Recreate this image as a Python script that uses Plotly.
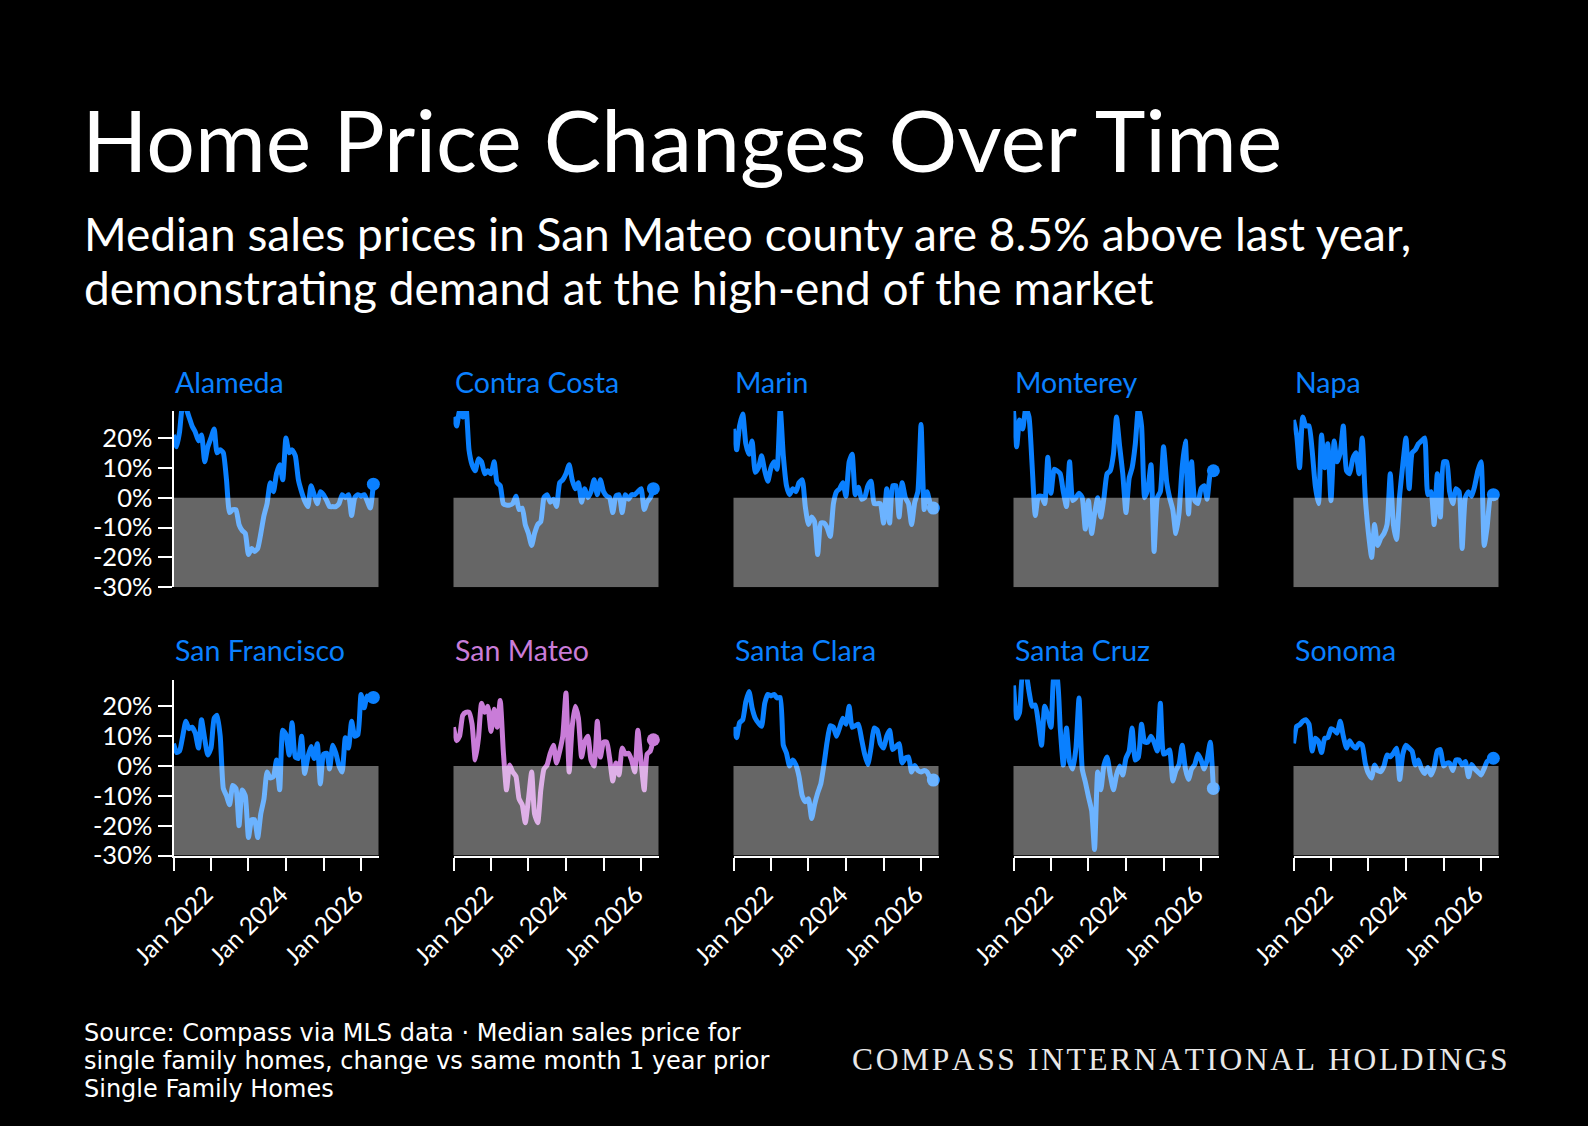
import plotly.graph_objects as go
import pandas as pd

W, H = 1588, 1126

# ---------------- data ----------------
dates = pd.date_range("2021-01-01", periods=65, freq="MS")

counties = ["Alameda", "Contra Costa", "Marin", "Monterey", "Napa",
            "San Francisco", "San Mateo", "Santa Clara", "Santa Cruz", "Sonoma"]

alameda = [21, 17, 22, 31, 30, 27, 24, 22, 19, 21, 12, 17, 20, 23, 15, 16, 15, 6, -5, -4,
           -4, -9, -11, -12, -19, -17, -18, -17, -12, -6, -2, 5, 2, 8, 11, 6, 20, 15, 16, 14,
           6, 2, -1, -3, 4, 1, -2, 2, 1, -1, -3, -3, -3, -2, 1, 0, 1, -6, 0, 1,
           0.5, 1, -1, -3.5, 4.5]
contra_costa = [27, 24, 29, 27, 31, 16, 11, 9, 13, 12, 8, 9, 8, 12, 5, 4, -2, -2.5, -2.5, -2,
                0.5, -4, -3.5, -9, -12, -16, -12, -9, -8, 0, 1, -1.5, -0.5, -3, 5, 6, 8, 11, 6, 3,
                5, -1.5, 3, 0, 2, 6, 1, 6, 2, 0.5, 0, -5, 0.5, 1, -5, 1, -0.5, 1, 1, 2,
                3, -4, -1.5, 0, 3]
marin = [23, 16, 24, 28, 18, 14.5, 19, 8.5, 10, 14, 9, 5.5, 10, 12, 9.5, 30, 14, 4, 1, 3,
         2, 5, 6, -3, -9, -6.5, -8, -19, -8.5, -8.5, -10, -13, -2, 2, 3, 5, 0.5, 12, 14.5, 1,
         3.5, -0.5, 0, 4, 5.5, -2, -2, -2, -8.5, 3, -8.5, 4, 4, -6.5, 5, 0, -2, -9, -1.5, 2,
         24.5, -4, 2, -2, -3.5]
monterey = [29, 17, 26, 23, 30, 27, 11, -6, 0.5, 0.5, -2, 13.5, 1.5, 9.5, 9, 8, 2, -3, 12, -1,
            0, 1.5, 0, -10.5, -1, -12, -5.5, 0, -6.5, 0, 8, 9, 14.5, 27, 17, 8, -5, 6.5, 10, 18,
            30, 24, 0, 3, 11, -18, 0, 2, 17, 5, 0, -4, -12, -5, 10, 19, -5.5, 12, -1, -2,
            3, 4, -0.5, 8, 9]
napa = [26, 21, 10, 27, 24, 24, 16, 4, -2, 21, 10, 18, -1, 19, 12, 15, 24, 9, 8, 13,
        15, 8, 20, 0, -12, -20, -9, -16, -13.5, -12, -9, 8, -9, -14, 1, 11, 20, 3, 15, 16,
        18, 19, 20, 1, 2, -9, 8, -6.5, 12, 12, 2, -2, 3, 2, -17, 0, 2, 0.5, 4, 9,
        12, -16, -10, 0, 1]
san_francisco = [7.5, 4.5, 5, 10, 15, 12.5, 13, 11, 6, 15.5, 9, 3.7, 6, 16, 17, 10, -7.5, -10, -13, -6.5,
                 -7.5, -20, -8, -10, -24, -18, -18, -24, -16, -11, -2, -4, -3.5, 2, -8, 12, 10.5, 3.7, 14.5, 3,
                 2.5, 10, -2.5, 3, 6.5, 2.5, 7.5, -6, 4, 4.3, -1, 7, 4.3, 0, -2, 9.5, 6, 15, 10, 10.5,
                 24, 19.5, 23.5, 22, 23]
san_mateo = [13, 8.5, 10, 17, 18, 18, 14, 2, 9.3, 21, 18, 20, 11.6, 19, 13, 22, 5, -8, 0.3, -2,
             -3.5, -11, -13, -19, -11, -2, -16, -19, -8, -1, 0.3, 4.3, 7, 1, 5, 10, 24.5, -2, 13, 20,
             16, 3, 8, 10, 2, 0, 15, 3, 8, 8, 2.6, -5, 1, -3, 6, 4, 4.3, 2, -2, 12,
             1.5, -8, 4, 5, 8.8]
santa_clara = [13, 9.5, 14.5, 15.5, 21.5, 25, 19.5, 16, 14.4, 13.3, 21, 24, 23.5, 24, 22.8, 23, 7, 4.3, 0, 2,
               0.3, -3.5, -10, -12, -11, -17.6, -13, -9, -6, 0.5, 8, 13.5, 13, 10, 13, 16, 14, 20, 13, 13.5,
               14, 9, 4, 0.5, 6, 12.7, 12, 7.5, 6, 10, 12, 5.5, 6.5, 7.5, 1, 2.6, 3, -2, 0.2, -1.5,
               -2, -1.5, -2, -4, -4.7]
santa_cruz = [27, 16, 18, 31, 31, 25, 20, 20.5, 14.4, 7, 20, 17, 13, 31, 30, 12.7, 0.3, 12.7, 1.5, -1,
              6, 22.8, -1, -5.3, -10.3, -15, -28, -2, -8, 0.3, 3, -3, -8, -3, 0, -3, 2.6, 5, 12.7, 2,
              3, 14, 8, 8, 10, 8, 5, 21, 4, 4.5, 5.4, -5, -1.5, 0.5, 7, -0.8, -4.5, -1, 0.5, 4,
              2, -1, 2, 8, -7.5]
sonoma = [7.6, 13.3, 13.8, 15, 15.5, 14, 5, 9.3, 8.2, 4.5, 9.3, 9.5, 12.5, 12, 11, 15, 10, 6, 8.5, 6.8,
          6, 7.6, 7, 0.9, -2.5, -4, 0.3, -1.5, -1.9, 0, 3.7, 3.1, 4.3, 6, -4.5, 4, 7, 6, 5, 0.3,
          2, -1, -2.5, -0.5, -3, -0.5, 5, 5.5, 0, 0.9, 1, -1.5, 2, 2, 0.3, 1.5, -3.6, 0.5, -1, -2,
          -3, -0.8, 1.5, 2, 2.6]

series = [alameda, contra_costa, marin, monterey, napa,
          san_francisco, san_mateo, santa_clara, santa_cruz, sonoma]
highlight = "San Mateo"

y_tickvals = [-30, -20, -10, 0, 10, 20]
y_ticktext = ["-30%", "-20%", "-10%", "0%", "10%", "20%"]
x_tickvals = ["2021-01-01", "2022-01-01", "2023-01-01", "2024-01-01", "2025-01-01", "2026-01-01"]
x_ticktext = ["", "Jan 2022", "", "Jan 2024", "", "Jan 2026"]

title = "Home Price Changes Over Time"
subtitle_lines = ["Median sales prices in San Mateo county are 8.5% above last year,",
                  "demonstrating demand at the high-end of the market"]
footer_lines = ["Source: Compass via MLS data \u00b7 Median sales price for",
                "single family homes, change vs same month 1 year prior",
                "Single Family Homes"]
brand = "COMPASS INTERNATIONAL HOLDINGS"

# ---------------- style ----------------
FONT = "Lato"
FOOT_FONT = "DejaVu Sans"
BLUE = "#0A80FF"
PURPLE = "#C97CD8"
WHITE = "#FFFFFF"

col_left = [173.5 + 280 * i for i in range(5)]
pw = 205
row_top = [411.0, 679.5]
row_bot = [587.3, 855.5]
title_y = [382, 650]


def px_x(v):
    return v / W


def px_y(v):
    return 1 - v / H


fig = go.Figure()
layout_axes = {}
annotations = []
shapes = []

for idx, (name, vals) in enumerate(zip(counties, series)):
    r, c = divmod(idx, 5)
    k = idx + 1
    xa = "x" if k == 1 else f"x{k}"
    ya = "y" if k == 1 else f"y{k}"
    color = PURPLE if name == highlight else BLUE

    fig.add_trace(go.Scatter(x=dates, y=vals, mode="lines",
                             line=dict(color=color, width=5, shape="spline", smoothing=0.5),
                             xaxis=xa, yaxis=ya, hoverinfo="skip", showlegend=False))
    fig.add_trace(go.Scatter(x=[dates[-1]], y=[vals[-1]], mode="markers",
                             marker=dict(color=color, size=13),
                             xaxis=xa, yaxis=ya, hoverinfo="skip", showlegend=False,
                             cliponaxis=False))

    shapes.append(dict(type="rect", xref=f"{xa} domain", yref=ya,
                       x0=0, x1=1, y0=-30, y1=0,
                       fillcolor="white", opacity=0.4, line_width=0, layer="above"))

    x0 = col_left[c]
    layout_axes["xaxis" if k == 1 else f"xaxis{k}"] = dict(
        domain=[px_x(x0), px_x(x0 + pw)], anchor=ya, type="date",
        range=["2021-01-01", "2026-06-20"], automargin=False,
        showgrid=False, zeroline=False,
        showline=(r == 1), linecolor=WHITE, linewidth=2,
        ticks="outside" if r == 1 else "", ticklen=13, tickwidth=2, tickcolor=WHITE,
        tickmode="array", tickvals=x_tickvals, ticktext=x_ticktext,
        tickangle=-45, showticklabels=(r == 1), ticklabelshift=-5,
        tickfont=dict(family=FONT, size=24.5, color=WHITE),
    )
    layout_axes["yaxis" if k == 1 else f"yaxis{k}"] = dict(
        domain=[px_y(row_bot[r]), px_y(row_top[r])], anchor=xa,
        range=[-30, 29], showgrid=False, zeroline=False, automargin=False,
        showline=(c == 0), linecolor=WHITE, linewidth=2,
        ticks="outside" if c == 0 else "", ticklen=14, tickwidth=2, tickcolor=WHITE,
        tickmode="array", tickvals=y_tickvals, ticktext=y_ticktext,
        showticklabels=(c == 0),
        tickfont=dict(family=FONT, size=25.5, color=WHITE),
    )

    annotations.append(dict(text=name, xref="paper", yref="paper",
                            x=px_x(x0 - 1), y=px_y(title_y[r]),
                            xanchor="left", yanchor="middle", showarrow=False,
                            font=dict(family=FONT, size=28.5, color=color)))

annotations.append(dict(text=title, xref="paper", yref="paper",
                        x=px_x(80), y=px_y(139), xanchor="left", yanchor="middle",
                        showarrow=False, font=dict(family=FONT, size=86, color=WHITE)))
for i, line in enumerate(subtitle_lines):
    annotations.append(dict(text=line, xref="paper", yref="paper",
                            x=px_x(82), y=px_y(233.5 + 53.5 * i), xanchor="left", yanchor="middle",
                            showarrow=False, font=dict(family=FONT, size=46, color=WHITE)))
for i, line in enumerate(footer_lines):
    annotations.append(dict(text=line, xref="paper", yref="paper",
                            x=px_x(82), y=px_y(1033 + 28 * i), xanchor="left", yanchor="middle",
                            showarrow=False, font=dict(family=FOOT_FONT, size=24, color=WHITE)))

spaced_brand = "\u200a".join(list(brand))
annotations.append(dict(text=spaced_brand, xref="paper", yref="paper",
                        x=px_x(1510), y=px_y(1059), xanchor="right", yanchor="middle",
                        showarrow=False,
                        font=dict(family="Liberation Serif", size=31.5, color="#E8E8E8")))

fig.update_layout(
    width=W, height=H,
    margin=dict(l=0, r=0, t=0, b=0, autoexpand=False),
    paper_bgcolor="black", plot_bgcolor="black",
    showlegend=False, hovermode=False,
    annotations=annotations, shapes=shapes,
    **layout_axes,
)

fig.write_html("out.html", config={"displayModeBar": False})
